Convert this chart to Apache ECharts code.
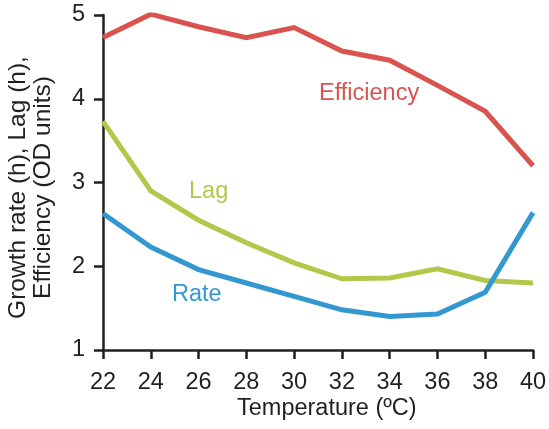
<!DOCTYPE html>
<html>
<head>
<meta charset="utf-8">
<script src="https://cdn.jsdelivr.net/npm/echarts@6/dist/echarts.min.js"></script>
<style>
  html, body { margin: 0; padding: 0; background: #fff; }
  #chart { width: 549px; height: 429px; }
</style>
</head>
<body>
<div id="chart"></div>
<script>
// Temperatures (ºC) at which growth was measured
const temperatures = [22, 24, 26, 28, 30, 32, 34, 36, 38, 40];
// Growth yield, OD units
const efficiency = [4.73, 5.01, 4.86, 4.73, 4.85, 4.57, 4.46, 4.16, 3.85, 3.20];
// Lag phase duration, h
const lag = [3.73, 2.90, 2.55, 2.28, 2.04, 1.85, 1.86, 1.97, 1.83, 1.80];
// Growth rate, h
const rate = [2.63, 2.23, 1.96, 1.80, 1.64, 1.48, 1.40, 1.43, 1.69, 2.64];

const colors = { efficiency: '#d9534f', lag: '#b3c74b', rate: '#3398cf' };
const font = '"Liberation Sans", Arial, Helvetica, sans-serif';
const size = 23.5;
const ink = '#231f20';

const pairs = vals => temperatures.map((t, i) => [t, vals[i]]);

const lineSeries = (name, vals, color) => ({
  name,
  type: 'line',
  data: pairs(vals),
  symbol: 'none',
  lineStyle: { color, width: 5, cap: 'butt', join: 'miter' },
  animation: false
});

const chart = echarts.init(document.getElementById('chart'), null, { renderer: 'canvas' });
chart.setOption({
  backgroundColor: '#fff',
  animation: false,
  grid: { left: 103, right: 16, top: 15, bottom: 79, containLabel: false, outerBoundsMode: 'none' },
  xAxis: {
    type: 'value', min: 22, max: 40, interval: 2,
    axisLine: { lineStyle: { color: ink, width: 2.5 } },
    axisTick: { show: true, length: 9, lineStyle: { color: ink, width: 2.5 } },
    axisLabel: { color: ink, fontSize: size, fontFamily: font, margin: 21 },
    splitLine: { show: false }
  },
  yAxis: {
    type: 'value', min: 1, max: 5, interval: 1,
    axisLine: { show: true, lineStyle: { color: ink, width: 2.5 } },
    axisTick: { show: true, length: 9, lineStyle: { color: ink, width: 2.5 } },
    axisLabel: { color: ink, fontSize: size, fontFamily: font, margin: 18 },
    splitLine: { show: false },
    name: 'Growth rate (h), Lag (h),\nEfficiency (OD units)',
    nameLocation: 'middle',
    nameRotate: 90,
    nameGap: 47,
    nameTextStyle: { color: ink, fontSize: 24.5, fontFamily: font, lineHeight: 25, padding: [0, 10, 0, 0] }
  },
  series: [
    lineSeries('Efficiency', efficiency, colors.efficiency),
    lineSeries('Lag', lag, colors.lag),
    lineSeries('Rate', rate, colors.rate)
  ],
  graphic: [
    { type: 'text', left: 319, top: 82, style: { text: 'Efficiency', fill: colors.efficiency, font: size + 'px ' + font } },
    { type: 'text', left: 189, top: 180, style: { text: 'Lag', fill: colors.lag, font: size + 'px ' + font } },
    { type: 'text', left: 172, top: 283, style: { text: 'Rate', fill: colors.rate, font: size + 'px ' + font } },
    { type: 'text', left: 237, top: 397, style: { text: 'Temperature (ºC)', fill: ink, font: size + 'px ' + font } }
  ]
});
</script>
</body>
</html>
